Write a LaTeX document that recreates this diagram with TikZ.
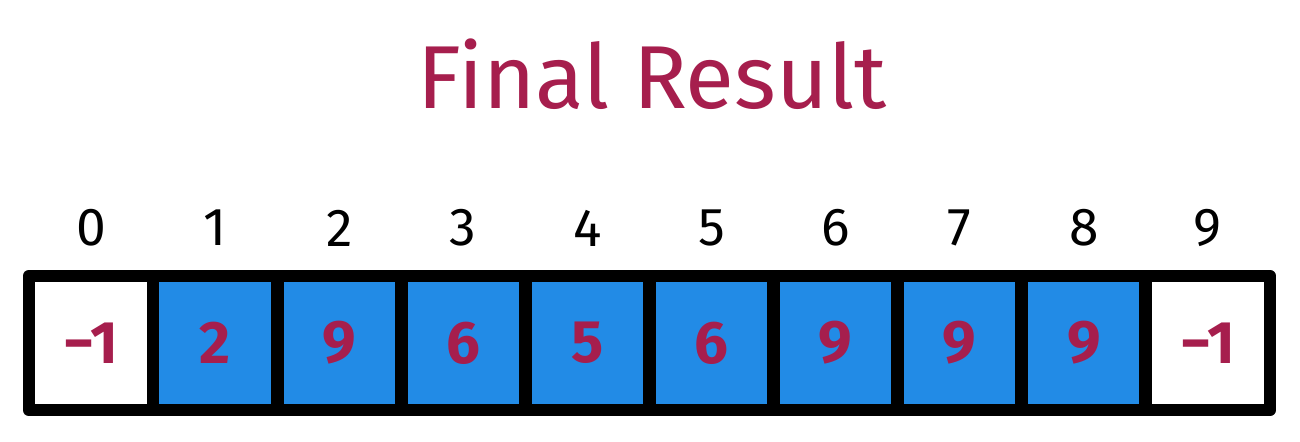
\documentclass[tikz,border=0pt]{standalone}
\usepackage{fontspec}
\setmainfont{Fira Sans}
\definecolor{crimson}{HTML}{A61E4D}
\definecolor{cellblue}{HTML}{228BE6}
\newcommand{\mns}{{\char"2212\relax}}
\begin{document}
\begin{tikzpicture}[x=0.75pt,y=-0.75pt,
  cell/.style={draw=black,line width=9.5pt,line join=round,minimum width=93pt,minimum height=100.5pt,inner sep=0pt,anchor=center,
    font=\fontsize{45}{50}\selectfont\bfseries,text=crimson},
  bluecell/.style={cell,fill=cellblue},
  whitecell/.style={cell,fill=white},
  idx/.style={font=\fontsize{40}{44}\selectfont,text=black,anchor=center},
  title/.style={font=\fontsize{67}{70}\selectfont,text=crimson,anchor=center}]
\useasboundingbox[fill=white] (0,0) rectangle (1300,442);
\node[title] (t) at (652,74) {Final Result};
\foreach \i/\v/\s in {0/\mns1/whitecell,1/2/bluecell,2/9/bluecell,3/6/bluecell,4/5/bluecell,5/6/bluecell,6/9/bluecell,7/9/bluecell,8/9/bluecell,9/\mns1/whitecell}{
  \node[\s] (c\i) at ({91+124.1*\i},343) {\v};
  \node[idx] (i\i) at ({91+124.1*\i},228) {\i};
}
\end{tikzpicture}
\end{document}
